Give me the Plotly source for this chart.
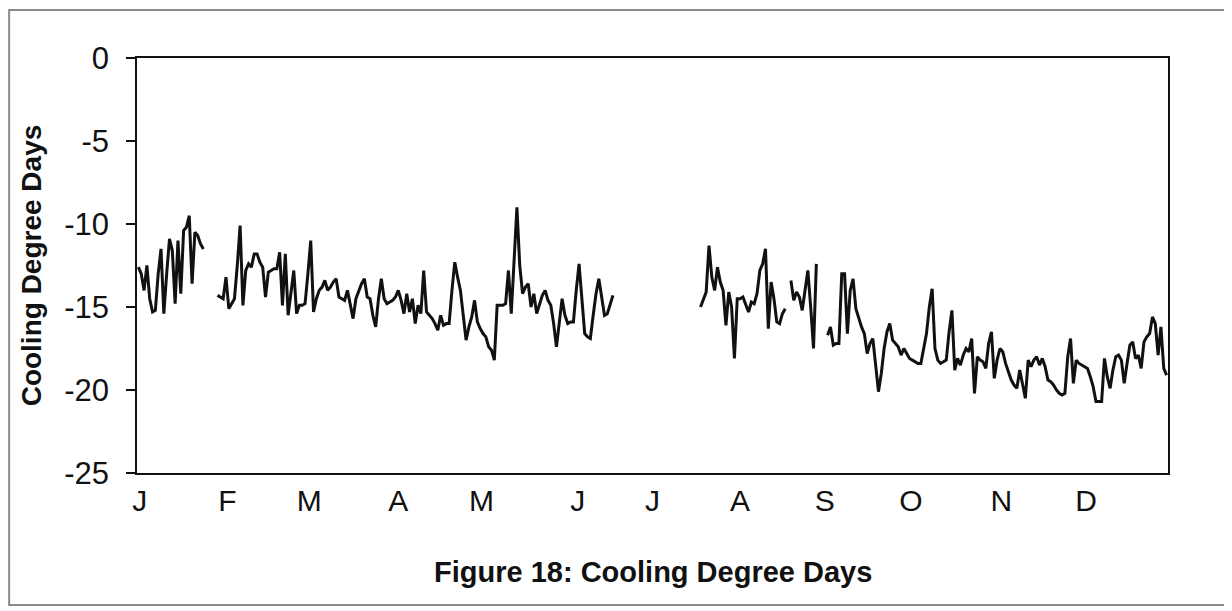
import plotly.graph_objects as go

# daily cooling degree values (day of year -> value)
# the series has gaps, so each continuous run keeps its own start day
jan_start = 1
jan_values = [-12.6, -13.0, -14.0, -12.5, -14.5, -15.3, -15.2, -13.0, -11.5, -15.4,
              -13.0, -10.9, -11.6, -14.8, -11.0, -14.2, -10.4, -10.2, -9.5, -13.6,
              -10.5, -10.7, -11.2, -11.5]

feb_jun_start = 29
feb_jun_values = [-14.3, -14.4, -14.5, -13.2, -15.1, -14.8, -14.5, -12.5, -10.1, -14.9,
                  -12.8, -12.4, -12.6, -11.8, -11.8, -12.3, -12.6, -14.4, -12.9, -12.8,
                  -12.7, -12.7, -11.7, -14.9, -11.8, -15.5, -14.0, -12.8, -15.4, -14.9,
                  -14.9, -14.8, -13.0, -11.0, -15.3, -14.5, -14.0, -13.8, -13.4, -14.0,
                  -13.8, -13.5, -13.3, -14.4, -14.5, -14.6, -14.0, -14.8, -15.7, -14.5,
                  -14.0, -13.6, -13.3, -14.4, -14.5, -15.5, -16.2, -14.5, -13.3, -14.5,
                  -14.8, -14.7, -14.6, -14.4, -14.0, -14.6, -15.4, -14.2, -15.3, -14.5,
                  -16.0, -14.9, -15.4, -12.8, -15.3, -15.5, -15.7, -16.0, -16.4, -15.5,
                  -16.1, -16.0, -16.0, -14.0, -12.3, -13.2, -14.0, -15.5, -17.0, -16.2,
                  -15.6, -14.6, -15.9, -16.3, -16.6, -16.8, -17.4, -17.6, -18.2, -14.9,
                  -14.9, -14.9, -14.8, -12.8, -15.4, -12.0, -9.0, -12.5, -14.2, -13.8,
                  -13.6, -15.0, -14.2, -15.4, -14.8, -14.3, -14.0, -14.6, -14.9, -16.0,
                  -17.4, -16.0, -14.5, -15.5, -16.0, -15.9, -15.9, -14.0, -12.4, -14.5,
                  -16.6, -16.8, -16.9, -15.5, -14.2, -13.3, -14.5, -15.5, -15.4, -14.9,
                  -14.3]

jul_aug_start = 200
jul_aug_values = [-15.0, -14.6, -14.1, -11.3, -13.2, -14.0, -12.6, -13.5, -14.0, -16.1,
                  -14.1, -15.0, -18.1, -14.5, -14.5, -14.4, -14.8, -15.3, -14.7, -14.8,
                  -14.2, -12.8, -12.4, -11.5, -16.3, -13.5, -14.5, -15.9, -16.0, -15.4,
                  -15.1]

aug_start = 232
aug_values = [-13.4, -14.6, -14.1, -14.4, -15.2, -14.0, -12.8, -15.0, -17.5, -12.4]

sep_dec_start = 245
sep_dec_values = [-16.7, -16.2, -17.3, -17.2, -17.2, -13.0, -13.0, -16.6, -14.0, -13.3,
                  -15.1, -15.7, -16.2, -16.6, -17.8, -17.2, -16.9, -18.5, -20.1, -19.0,
                  -17.5, -16.5, -16.0, -17.0, -17.2, -17.4, -17.9, -17.5, -17.8, -18.1,
                  -18.2, -18.3, -18.4, -18.4, -17.5, -16.6, -15.0, -13.9, -17.5, -18.2,
                  -18.4, -18.3, -18.2, -16.5, -15.2, -18.8, -18.1, -18.5, -17.9, -17.5,
                  -17.7, -16.9, -20.2, -18.0, -18.2, -18.3, -18.7, -17.2, -16.5, -19.3,
                  -18.2, -17.5, -17.7, -18.4, -18.9, -19.4, -19.7, -19.9, -18.8, -19.6,
                  -20.5, -18.2, -18.6, -18.2, -18.0, -18.5, -18.1, -18.6, -19.4, -19.5,
                  -19.7, -20.0, -20.2, -20.3, -20.2, -18.0, -16.9, -19.6, -18.2, -18.4,
                  -18.5, -18.6, -18.7, -19.2, -19.8, -20.7, -20.7, -20.7, -18.1, -19.2,
                  -19.9, -18.8, -18.0, -17.9, -18.2, -19.6, -18.4, -17.3, -17.1, -18.1,
                  -17.9, -18.7, -17.1, -16.8, -16.6, -15.6, -16.0, -17.9, -16.2, -18.7,
                  -19.1]

month_labels = ["J", "F", "M", "A", "M", "J", "J", "A", "S", "O", "N", "D"]
month_label_days = [1.5, 32.5, 61.5, 93, 122.5, 156.5, 183, 214, 244, 274.5, 306.5, 336.5]

y_ticks = [0, -5, -10, -15, -20, -25]
y_tick_text = ["0", "-5", "-10", "-15", "-20", "-25"]

# one list of 365 days, None where the series has no data
segments = [
    (jan_start, jan_values),
    (feb_jun_start, feb_jun_values),
    (jul_aug_start, jul_aug_values),
    (aug_start, aug_values),
    (sep_dec_start, sep_dec_values),
]
days = list(range(1, 366))
values = [None] * 365
for start, vals in segments:
    for i, v in enumerate(vals):
        values[start - 1 + i] = v

FONT = "Liberation Sans, Arial, sans-serif"

fig = go.Figure()
fig.add_trace(
    go.Scatter(
        x=days,
        y=values,
        mode="lines",
        line=dict(color="#111111", width=3),
        connectgaps=False,
        showlegend=False,
    )
)

# page body has an 8px margin, so the figure is sized to fit the window
fig.update_layout(
    width=1224,
    height=603,
    margin=dict(l=129, r=64, t=50, b=138),
    paper_bgcolor="white",
    plot_bgcolor="white",
    font=dict(family=FONT, size=28, color="#111111"),
)
fig.update_xaxes(
    range=[0.5, 365.5],
    tickvals=month_label_days,
    ticktext=month_labels,
    showgrid=False,
    zeroline=False,
    showline=True,
    mirror=True,
    linecolor="#111111",
    linewidth=1.5,
    ticks="",
    tickfont=dict(size=30),
)
fig.update_yaxes(
    range=[-25, 0],
    tickvals=y_ticks,
    ticktext=y_tick_text,
    showgrid=False,
    zeroline=False,
    showline=True,
    mirror=True,
    linecolor="#111111",
    linewidth=1.5,
    ticks="outside",
    ticklen=9,
    tickwidth=1.5,
    tickcolor="#111111",
    tickfont=dict(size=31),
    ticklabelstandoff=11,
)

# y-axis title
fig.add_annotation(
    text="<b>Cooling Degree Days</b>",
    xref="paper", yref="paper",
    x=-0.102, y=0.5,
    textangle=-90,
    showarrow=False,
    font=dict(size=28),
    xanchor="center", yanchor="middle",
)
# caption under the chart
fig.add_annotation(
    text="<b>Figure 18: Cooling Degree Days</b>",
    xref="paper", yref="paper",
    x=0.5, y=-0.2386,
    showarrow=False,
    font=dict(size=29),
    xanchor="center", yanchor="middle",
)
# outer frame of the scanned figure
fig.add_shape(
    type="rect",
    xref="paper", yref="paper",
    x0=-0.124, x1=1.0553, y0=-0.318, y1=1.1157,
    line=dict(color="#8a8a8a", width=2),
)

fig.write_html("out.html")
